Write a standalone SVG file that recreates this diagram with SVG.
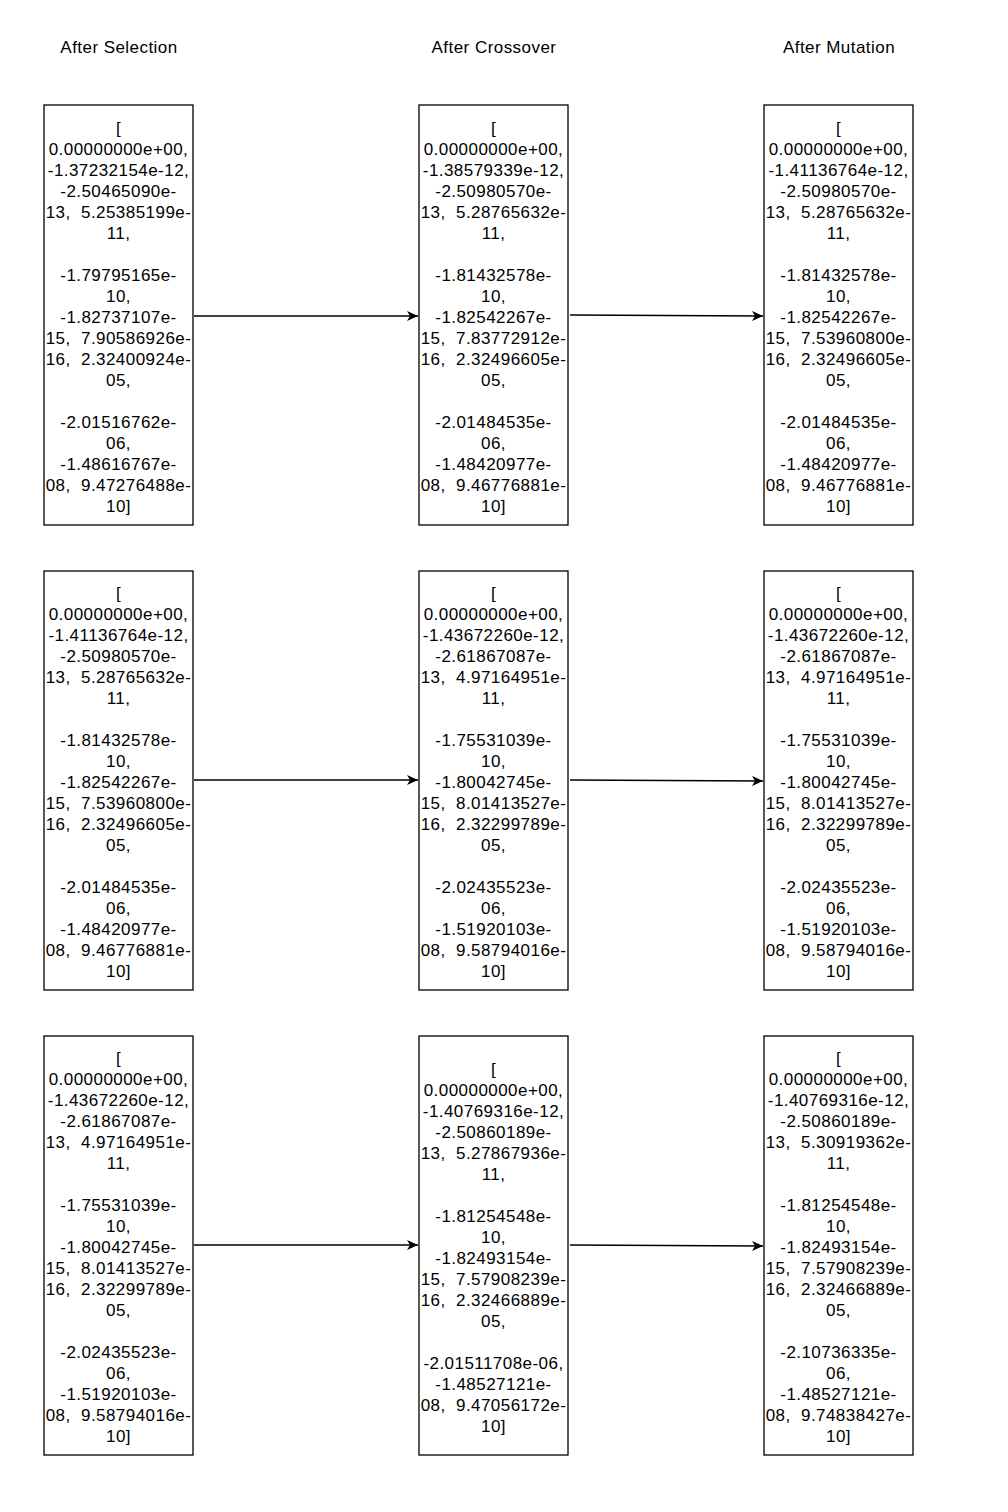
<svg xmlns="http://www.w3.org/2000/svg" width="1008" height="1512" viewBox="0 0 1008 1512">
<style>
text{font-family:"Liberation Sans",Helvetica,Arial,sans-serif;font-size:17px;letter-spacing:0.45px;fill:#000;white-space:pre;text-anchor:middle}
.box{fill:#fff;stroke:#000;stroke-width:1.3}
.conn{stroke:#000;stroke-width:1.3;fill:none;marker-end:url(#arr)}
</style>
<defs>
<marker id="arr" markerUnits="userSpaceOnUse" markerWidth="14" markerHeight="12" refX="11" refY="5" orient="auto">
<path d="M0,0 L11,5 L0,10 L3,5 Z" fill="#000"/>
</marker>
</defs>
<rect width="1008" height="1512" fill="#fff"/>
<g id="headers">
<text x="119" y="53">After Selection</text>
<text x="494" y="53">After Crossover</text>
<text x="839" y="53">After Mutation</text>
</g>
<g id="connectors">
<path class="conn" d="M194,316 L418,316"/>
<path class="conn" d="M570,315 L763,316"/>
<path class="conn" d="M194,780 L418,780"/>
<path class="conn" d="M570,780 L763,781"/>
<path class="conn" d="M194,1245 L418,1245"/>
<path class="conn" d="M570,1245 L763,1246"/>
</g>
<g id="sel1">
<rect class="box" x="44" y="105" width="149" height="420"/>
<text x="118.5" y="134"><tspan x="118.5">[</tspan><tspan x="118.5" dy="21">0.00000000e+00,</tspan><tspan x="118.5" dy="21">-1.37232154e-12,</tspan><tspan x="118.5" dy="21">-2.50465090e-</tspan><tspan x="118.5" dy="21">13,  5.25385199e-</tspan><tspan x="118.5" dy="21">11,</tspan><tspan x="118.5" dy="42">-1.79795165e-</tspan><tspan x="118.5" dy="21">10,</tspan><tspan x="118.5" dy="21">-1.82737107e-</tspan><tspan x="118.5" dy="21">15,  7.90586926e-</tspan><tspan x="118.5" dy="21">16,  2.32400924e-</tspan><tspan x="118.5" dy="21">05,</tspan><tspan x="118.5" dy="42">-2.01516762e-</tspan><tspan x="118.5" dy="21">06,</tspan><tspan x="118.5" dy="21">-1.48616767e-</tspan><tspan x="118.5" dy="21">08,  9.47276488e-</tspan><tspan x="118.5" dy="21">10]</tspan></text>
</g>
<g id="cross1">
<rect class="box" x="419" y="105" width="149" height="420"/>
<text x="493.5" y="134"><tspan x="493.5">[</tspan><tspan x="493.5" dy="21">0.00000000e+00,</tspan><tspan x="493.5" dy="21">-1.38579339e-12,</tspan><tspan x="493.5" dy="21">-2.50980570e-</tspan><tspan x="493.5" dy="21">13,  5.28765632e-</tspan><tspan x="493.5" dy="21">11,</tspan><tspan x="493.5" dy="42">-1.81432578e-</tspan><tspan x="493.5" dy="21">10,</tspan><tspan x="493.5" dy="21">-1.82542267e-</tspan><tspan x="493.5" dy="21">15,  7.83772912e-</tspan><tspan x="493.5" dy="21">16,  2.32496605e-</tspan><tspan x="493.5" dy="21">05,</tspan><tspan x="493.5" dy="42">-2.01484535e-</tspan><tspan x="493.5" dy="21">06,</tspan><tspan x="493.5" dy="21">-1.48420977e-</tspan><tspan x="493.5" dy="21">08,  9.46776881e-</tspan><tspan x="493.5" dy="21">10]</tspan></text>
</g>
<g id="mut1">
<rect class="box" x="764" y="105" width="149" height="420"/>
<text x="838.5" y="134"><tspan x="838.5">[</tspan><tspan x="838.5" dy="21">0.00000000e+00,</tspan><tspan x="838.5" dy="21">-1.41136764e-12,</tspan><tspan x="838.5" dy="21">-2.50980570e-</tspan><tspan x="838.5" dy="21">13,  5.28765632e-</tspan><tspan x="838.5" dy="21">11,</tspan><tspan x="838.5" dy="42">-1.81432578e-</tspan><tspan x="838.5" dy="21">10,</tspan><tspan x="838.5" dy="21">-1.82542267e-</tspan><tspan x="838.5" dy="21">15,  7.53960800e-</tspan><tspan x="838.5" dy="21">16,  2.32496605e-</tspan><tspan x="838.5" dy="21">05,</tspan><tspan x="838.5" dy="42">-2.01484535e-</tspan><tspan x="838.5" dy="21">06,</tspan><tspan x="838.5" dy="21">-1.48420977e-</tspan><tspan x="838.5" dy="21">08,  9.46776881e-</tspan><tspan x="838.5" dy="21">10]</tspan></text>
</g>
<g id="sel2">
<rect class="box" x="44" y="571" width="149" height="419"/>
<text x="118.5" y="599"><tspan x="118.5">[</tspan><tspan x="118.5" dy="21">0.00000000e+00,</tspan><tspan x="118.5" dy="21">-1.41136764e-12,</tspan><tspan x="118.5" dy="21">-2.50980570e-</tspan><tspan x="118.5" dy="21">13,  5.28765632e-</tspan><tspan x="118.5" dy="21">11,</tspan><tspan x="118.5" dy="42">-1.81432578e-</tspan><tspan x="118.5" dy="21">10,</tspan><tspan x="118.5" dy="21">-1.82542267e-</tspan><tspan x="118.5" dy="21">15,  7.53960800e-</tspan><tspan x="118.5" dy="21">16,  2.32496605e-</tspan><tspan x="118.5" dy="21">05,</tspan><tspan x="118.5" dy="42">-2.01484535e-</tspan><tspan x="118.5" dy="21">06,</tspan><tspan x="118.5" dy="21">-1.48420977e-</tspan><tspan x="118.5" dy="21">08,  9.46776881e-</tspan><tspan x="118.5" dy="21">10]</tspan></text>
</g>
<g id="cross2">
<rect class="box" x="419" y="571" width="149" height="419"/>
<text x="493.5" y="599"><tspan x="493.5">[</tspan><tspan x="493.5" dy="21">0.00000000e+00,</tspan><tspan x="493.5" dy="21">-1.43672260e-12,</tspan><tspan x="493.5" dy="21">-2.61867087e-</tspan><tspan x="493.5" dy="21">13,  4.97164951e-</tspan><tspan x="493.5" dy="21">11,</tspan><tspan x="493.5" dy="42">-1.75531039e-</tspan><tspan x="493.5" dy="21">10,</tspan><tspan x="493.5" dy="21">-1.80042745e-</tspan><tspan x="493.5" dy="21">15,  8.01413527e-</tspan><tspan x="493.5" dy="21">16,  2.32299789e-</tspan><tspan x="493.5" dy="21">05,</tspan><tspan x="493.5" dy="42">-2.02435523e-</tspan><tspan x="493.5" dy="21">06,</tspan><tspan x="493.5" dy="21">-1.51920103e-</tspan><tspan x="493.5" dy="21">08,  9.58794016e-</tspan><tspan x="493.5" dy="21">10]</tspan></text>
</g>
<g id="mut2">
<rect class="box" x="764" y="571" width="149" height="419"/>
<text x="838.5" y="599"><tspan x="838.5">[</tspan><tspan x="838.5" dy="21">0.00000000e+00,</tspan><tspan x="838.5" dy="21">-1.43672260e-12,</tspan><tspan x="838.5" dy="21">-2.61867087e-</tspan><tspan x="838.5" dy="21">13,  4.97164951e-</tspan><tspan x="838.5" dy="21">11,</tspan><tspan x="838.5" dy="42">-1.75531039e-</tspan><tspan x="838.5" dy="21">10,</tspan><tspan x="838.5" dy="21">-1.80042745e-</tspan><tspan x="838.5" dy="21">15,  8.01413527e-</tspan><tspan x="838.5" dy="21">16,  2.32299789e-</tspan><tspan x="838.5" dy="21">05,</tspan><tspan x="838.5" dy="42">-2.02435523e-</tspan><tspan x="838.5" dy="21">06,</tspan><tspan x="838.5" dy="21">-1.51920103e-</tspan><tspan x="838.5" dy="21">08,  9.58794016e-</tspan><tspan x="838.5" dy="21">10]</tspan></text>
</g>
<g id="sel3">
<rect class="box" x="44" y="1036" width="149" height="419"/>
<text x="118.5" y="1064"><tspan x="118.5">[</tspan><tspan x="118.5" dy="21">0.00000000e+00,</tspan><tspan x="118.5" dy="21">-1.43672260e-12,</tspan><tspan x="118.5" dy="21">-2.61867087e-</tspan><tspan x="118.5" dy="21">13,  4.97164951e-</tspan><tspan x="118.5" dy="21">11,</tspan><tspan x="118.5" dy="42">-1.75531039e-</tspan><tspan x="118.5" dy="21">10,</tspan><tspan x="118.5" dy="21">-1.80042745e-</tspan><tspan x="118.5" dy="21">15,  8.01413527e-</tspan><tspan x="118.5" dy="21">16,  2.32299789e-</tspan><tspan x="118.5" dy="21">05,</tspan><tspan x="118.5" dy="42">-2.02435523e-</tspan><tspan x="118.5" dy="21">06,</tspan><tspan x="118.5" dy="21">-1.51920103e-</tspan><tspan x="118.5" dy="21">08,  9.58794016e-</tspan><tspan x="118.5" dy="21">10]</tspan></text>
</g>
<g id="cross3">
<rect class="box" x="419" y="1036" width="149" height="419"/>
<text x="493.5" y="1075"><tspan x="493.5">[</tspan><tspan x="493.5" dy="21">0.00000000e+00,</tspan><tspan x="493.5" dy="21">-1.40769316e-12,</tspan><tspan x="493.5" dy="21">-2.50860189e-</tspan><tspan x="493.5" dy="21">13,  5.27867936e-</tspan><tspan x="493.5" dy="21">11,</tspan><tspan x="493.5" dy="42">-1.81254548e-</tspan><tspan x="493.5" dy="21">10,</tspan><tspan x="493.5" dy="21">-1.82493154e-</tspan><tspan x="493.5" dy="21">15,  7.57908239e-</tspan><tspan x="493.5" dy="21">16,  2.32466889e-</tspan><tspan x="493.5" dy="21">05,</tspan><tspan x="493.5" dy="42">-2.01511708e-06,</tspan><tspan x="493.5" dy="21">-1.48527121e-</tspan><tspan x="493.5" dy="21">08,  9.47056172e-</tspan><tspan x="493.5" dy="21">10]</tspan></text>
</g>
<g id="mut3">
<rect class="box" x="764" y="1036" width="149" height="419"/>
<text x="838.5" y="1064"><tspan x="838.5">[</tspan><tspan x="838.5" dy="21">0.00000000e+00,</tspan><tspan x="838.5" dy="21">-1.40769316e-12,</tspan><tspan x="838.5" dy="21">-2.50860189e-</tspan><tspan x="838.5" dy="21">13,  5.30919362e-</tspan><tspan x="838.5" dy="21">11,</tspan><tspan x="838.5" dy="42">-1.81254548e-</tspan><tspan x="838.5" dy="21">10,</tspan><tspan x="838.5" dy="21">-1.82493154e-</tspan><tspan x="838.5" dy="21">15,  7.57908239e-</tspan><tspan x="838.5" dy="21">16,  2.32466889e-</tspan><tspan x="838.5" dy="21">05,</tspan><tspan x="838.5" dy="42">-2.10736335e-</tspan><tspan x="838.5" dy="21">06,</tspan><tspan x="838.5" dy="21">-1.48527121e-</tspan><tspan x="838.5" dy="21">08,  9.74838427e-</tspan><tspan x="838.5" dy="21">10]</tspan></text>
</g>
</svg>
